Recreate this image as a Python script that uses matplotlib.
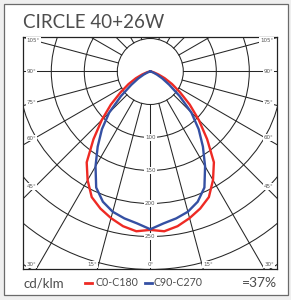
import numpy as np
import matplotlib
matplotlib.use("Agg")
import matplotlib.pyplot as plt
from matplotlib.patches import Rectangle, Circle
from matplotlib.lines import Line2D

# ---------------- data ----------------
title = "CIRCLE 40+26W"
unit_label = "cd/klm"
efficiency_label = "=37%"
series_names = ["C0-C180", "C90-C270"]
series_colors = ["#ee2a24", "#3550a3"]

gamma = [0, 5, 10, 15, 20, 25, 30, 35, 40, 45, 50, 55, 60, 65, 70, 75, 80, 85, 90, 180]
c0_c180 = [240, 243, 238, 230, 221, 210, 190, 168, 134, 104, 78, 55, 38, 24, 13, 6, 3, 1, 0, 0]
c90_c270 = [239, 231, 226, 220, 210, 194, 166, 139, 114, 88, 58, 35, 21, 11, 5, 2, 1, 0, 0, 0]

ring_values = [50, 100, 150, 200, 250, 300, 350, 400]
ring_labels = [100, 150, 200, 250]
angle_labels = [0, 15, 30, 45, 60, 75, 90, 105]
radial_step = 15

# ---------------- layout ----------------
W, H = 291, 300
fig = plt.figure(figsize=(W / 100, H / 100), dpi=100)
fig.patch.set_facecolor("#efefef")
fig.patches.append(Rectangle((4 / W, 5 / H), 284 / W, 291 / H, transform=fig.transFigure,
                             facecolor="white", edgecolor="#6a6a6a", lw=0.9, zorder=-5))

px_per = 0.66  # pixels per cd/klm
cx, cy = 150.3, 71.5  # centre in pixel coords (top-left origin)
L, R, T, B = 23, 277, 37, 269
ax = fig.add_axes([L / W, 1 - B / H, (R - L) / W, (B - T) / H])
ax.set_zorder(2)
xmin, xmax = (L - cx) / px_per, (R - cx) / px_per
ymin, ymax = (cy - B) / px_per, (cy - T) / px_per
ax.set_xlim(xmin, xmax)
ax.set_ylim(ymin, ymax)
ax.set_xticks([]); ax.set_yticks([])
for s in ax.spines.values():
    s.set_color("#222222"); s.set_linewidth(0.9)

grid_c = "#262626"
grid_lw = 0.75
# rings
for rv in ring_values:
    ax.add_patch(Circle((0, 0), rv, fill=False, ec=grid_c, lw=grid_lw, zorder=1))
# radial lines
for a in range(0, 360, radial_step):
    t = np.radians(a)
    ax.plot([ring_values[0] * np.sin(t), 600 * np.sin(t)],
            [-ring_values[0] * np.cos(t), -600 * np.cos(t)], color=grid_c, lw=grid_lw, zorder=1)

lab_c = "#555555"
lab_fs = 4
# ring labels on the 0 deg axis
for rv in ring_labels:
    ax.text(0, -rv, str(rv), fontsize=lab_fs, color=lab_c, ha="center", va="center", zorder=3,
            bbox=dict(boxstyle="square,pad=0.25", fc="white", ec="none"))

# angle labels at the frame edges
inset_x = 3.5 / px_per
inset_y = 4.5 / px_per
for a in angle_labels:
    t = np.radians(a)
    for side in ([-1, 1] if a != 0 else [1]):
        sx, cyv = side * np.sin(t), -np.cos(t)
        tb = ymin / cyv if cyv < 0 else np.inf
        ts = (xmin if side < 0 else xmax) / sx if sx != 0 else np.inf
        if tb <= ts:
            xb = tb * sx
            ha = "center" if a == 0 else ("right" if side < 0 else "left")
            ax.text(xb, ymin + inset_y, f"{a}°", fontsize=lab_fs, color=lab_c, ha=ha, va="center",
                    zorder=3, bbox=dict(boxstyle="square,pad=0.15", fc="white", ec="none"))
        else:
            xr = (xmin + 12 / px_per) if side < 0 else (xmax - 12 / px_per)
            yr = (xr / sx) * cyv
            xt = xmin + inset_x if side < 0 else xmax - inset_x
            ax.text(xt, yr, f"{a}°", fontsize=lab_fs, color=lab_c,
                    ha="left" if side < 0 else "right", va="center", zorder=3,
                    bbox=dict(boxstyle="square,pad=0.15", fc="white", ec="none"))

# curves
g = np.array(gamma, float)
for vals, col, z in [(c0_c180, series_colors[0], 5), (c90_c270, series_colors[1], 6)]:
    v = np.array(vals, float)
    th = np.radians(np.concatenate([-g[::-1], g[1:]]))
    rr = np.concatenate([v[::-1], v[1:]])
    ax.plot(rr * np.sin(th), -rr * np.cos(th), color=col, lw=1.7, zorder=z,
            solid_joinstyle="round")

# ---------------- texts ----------------
txt_c = "#4d4d4d"
fig.text(23 / W, 1 - 23 / H, title, fontsize=13.5, color=txt_c, family="Lato",
         ha="left", va="center")
yb = 1 - 283 / H
fig.text(23 / W, yb, unit_label, fontsize=9.5, color=txt_c, family="Lato", ha="left", va="center")
fig.add_artist(Line2D([85 / W, 92 / W], [yb, yb], color=series_colors[0], lw=2, transform=fig.transFigure))
fig.text(95 / W, yb, series_names[0], fontsize=7.7, color=txt_c, family="Lato", ha="left", va="center")
fig.add_artist(Line2D([145 / W, 152 / W], [yb, yb], color=series_colors[1], lw=2, transform=fig.transFigure))
fig.text(154 / W, yb, series_names[1], fontsize=7.7, color=txt_c, family="Lato", ha="left", va="center")
fig.text(277 / W, yb, efficiency_label, fontsize=10, color=txt_c, family="Lato", ha="right", va="center")

fig.savefig("out.png", dpi=100, facecolor=fig.get_facecolor())
